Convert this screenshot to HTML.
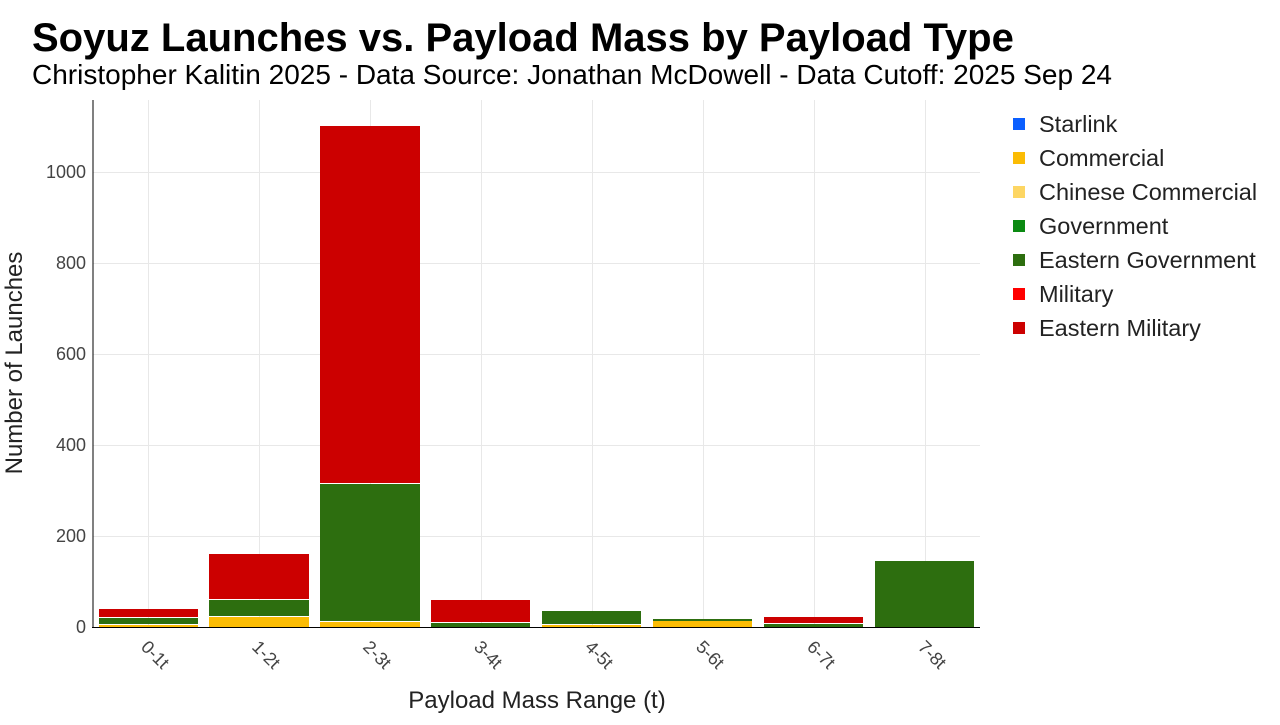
<!DOCTYPE html>
<html><head><meta charset="utf-8"><style>
body{margin:0;background:#fff;width:1280px;height:720px;overflow:hidden;font-family:"Liberation Sans",Arial,sans-serif}
</style></head><body>
<svg width="1280" height="720" xmlns="http://www.w3.org/2000/svg" font-family="Liberation Sans, Arial, sans-serif">
<text x="32" y="51" font-size="40" font-weight="bold" fill="#000">Soyuz Launches vs. Payload Mass by Payload Type</text>
<text x="32" y="84" font-size="28" textLength="1080" lengthAdjust="spacingAndGlyphs" fill="#000">Christopher Kalitin 2025 - Data Source: Jonathan McDowell - Data Cutoff: 2025 Sep 24</text>
<g stroke="#e8e8e8" stroke-width="1">
<line x1="93" x2="980" y1="172.5" y2="172.5"/><line x1="93" x2="980" y1="263.5" y2="263.5"/><line x1="93" x2="980" y1="354.5" y2="354.5"/><line x1="93" x2="980" y1="445.5" y2="445.5"/><line x1="93" x2="980" y1="536.5" y2="536.5"/>
<line x1="148.5" x2="148.5" y1="100" y2="627"/><line x1="259.5" x2="259.5" y1="100" y2="627"/><line x1="370.5" x2="370.5" y1="100" y2="627"/><line x1="481.5" x2="481.5" y1="100" y2="627"/><line x1="592.5" x2="592.5" y1="100" y2="627"/><line x1="703.5" x2="703.5" y1="100" y2="627"/><line x1="814.5" x2="814.5" y1="100" y2="627"/><line x1="925.5" x2="925.5" y1="100" y2="627"/>
</g>
<g>
<rect x="99" y="625" width="99" height="2" fill="#fbbc04"/><rect x="99" y="618" width="99" height="6" fill="#2d6e0f"/><rect x="99" y="609" width="99" height="8" fill="#cc0000"/>
<rect x="209" y="617" width="100" height="10" fill="#fbbc04"/><rect x="209" y="600" width="100" height="16" fill="#2d6e0f"/><rect x="209" y="554" width="100" height="45" fill="#cc0000"/>
<rect x="320" y="622" width="100" height="5" fill="#fbbc04"/><rect x="320" y="484" width="100" height="137" fill="#2d6e0f"/><rect x="320" y="126" width="100" height="357" fill="#cc0000"/>
<rect x="431" y="623" width="99" height="4" fill="#2d6e0f"/><rect x="431" y="600" width="99" height="22" fill="#cc0000"/>
<rect x="542" y="625" width="99" height="2" fill="#fbbc04"/><rect x="542" y="611" width="99" height="13" fill="#2d6e0f"/>
<rect x="653" y="621" width="99" height="6" fill="#fbbc04"/><rect x="653" y="619" width="99" height="2" fill="#2d6e0f"/>
<rect x="764" y="624" width="99" height="3" fill="#2d6e0f"/><rect x="764" y="617" width="99" height="6" fill="#cc0000"/>
<rect x="875" y="561" width="99" height="66" fill="#2d6e0f"/>
</g>
<line x1="93" x2="93" y1="100" y2="628" stroke="#000" stroke-width="1"/>
<line x1="92" x2="980" y1="627.5" y2="627.5" stroke="#000" stroke-width="1"/>
<g font-size="18" fill="#444" text-anchor="end">
<text x="86" y="633">0</text><text x="86" y="542">200</text><text x="86" y="451">400</text><text x="86" y="360">600</text><text x="86" y="269">800</text><text x="86" y="178">1000</text>
</g>
<g font-size="18" fill="#444">
<text transform="translate(140,648) rotate(45)">0-1t</text>
<text transform="translate(251,648) rotate(45)">1-2t</text>
<text transform="translate(362,648) rotate(45)">2-3t</text>
<text transform="translate(473,648) rotate(45)">3-4t</text>
<text transform="translate(584,648) rotate(45)">4-5t</text>
<text transform="translate(695,648) rotate(45)">5-6t</text>
<text transform="translate(806,648) rotate(45)">6-7t</text>
<text transform="translate(917,648) rotate(45)">7-8t</text>
</g>
<text x="537" y="708" font-size="24" fill="#222" text-anchor="middle">Payload Mass Range (t)</text>
<text transform="translate(22,363) rotate(-90)" font-size="24" fill="#222" text-anchor="middle">Number of Launches</text>
<g font-size="23.5" fill="#222">
<rect x="1013" y="118" width="12" height="12" fill="#0b5fff"/><text x="1039" y="132">Starlink</text>
<rect x="1013" y="152" width="12" height="12" fill="#fbbc04"/><text x="1039" y="166">Commercial</text>
<rect x="1013" y="186" width="12" height="12" fill="#fdd663"/><text x="1039" y="200">Chinese Commercial</text>
<rect x="1013" y="220" width="12" height="12" fill="#0b8a12"/><text x="1039" y="234">Government</text>
<rect x="1013" y="254" width="12" height="12" fill="#2d6e0f"/><text x="1039" y="268">Eastern Government</text>
<rect x="1013" y="288" width="12" height="12" fill="#ff0000"/><text x="1039" y="302">Military</text>
<rect x="1013" y="322" width="12" height="12" fill="#cc0000"/><text x="1039" y="336">Eastern Military</text>
</g>
</svg>
</body></html>
